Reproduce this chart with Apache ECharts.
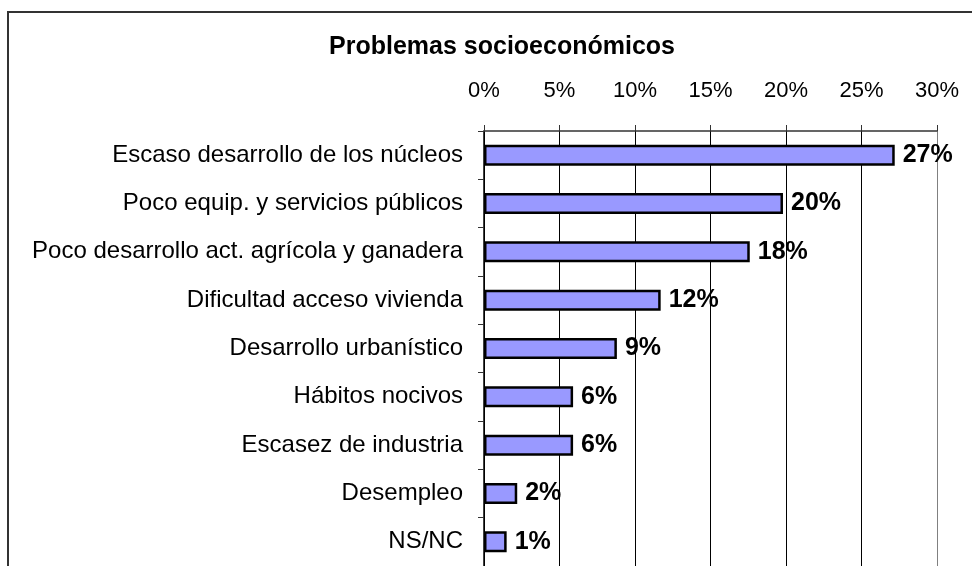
<!DOCTYPE html>
<html>
<head>
<meta charset="utf-8">
<script src="https://cdn.jsdelivr.net/npm/echarts@6/dist/echarts.min.js"></script>
<style>
  html, body { margin: 0; padding: 0; background: #fff; }
  #chart { width: 972px; height: 566px; }
</style>
</head>
<body>
<div id="chart"></div>
<script>
// datos del gráfico
var categorias = ["Escaso desarrollo de los núcleos", "Poco equip. y servicios públicos",
    "Poco desarrollo act. agrícola y ganadera", "Dificultad acceso vivienda",
    "Desarrollo urbanístico", "Hábitos nocivos", "Escasez de industria", "Desempleo", "NS/NC"];
var valores = [27.2, 19.8, 17.6, 11.7, 8.8, 5.9, 5.9, 2.2, 1.5];
var etiquetas = ["27%", "20%", "18%", "12%", "9%", "6%", "6%", "2%", "1%"];
var titulo = "Problemas socioeconómicos";

(function () {
    var fuente = "'Liberation Sans', Arial, sans-serif";
    var myChart = echarts.init(document.getElementById("chart"));
    var option = {
        animation: false,
        title: {
            text: titulo,
            left: 497,
            textAlign: "center",
            top: 30,
            textStyle: { fontFamily: fuente, fontSize: 25, fontWeight: "bold", color: "#000" }
        },
        // marco exterior
        graphic: [{
            type: "rect",
            shape: { x: 8, y: 12, width: 1000, height: 600 },
            style: { fill: "none", stroke: "#333", lineWidth: 2 }
        }],
        grid: { left: 484, right: 35, top: 131, height: 441 },
        xAxis: {
            type: "value",
            position: "top",
            min: 0,
            max: 30,
            interval: 5,
            axisLine: { show: true, lineStyle: { color: "#333", width: 1.5 } },
            axisTick: { show: true, length: 6, lineStyle: { color: "#333" } },
            axisLabel: {
                formatter: "{value}%",
                margin: 29,
                fontFamily: fuente,
                fontSize: 22,
                color: "#000"
            },
            splitLine: {
                show: true,
                lineStyle: { color: ["#000", "#000", "#000", "#000", "#000", "#000", "#808080"], width: 1 }
            }
        },
        yAxis: {
            type: "category",
            inverse: true,
            data: categorias,
            axisLine: { show: true, lineStyle: { color: "#000", width: 1.5 } },
            axisTick: { show: true, length: 6, lineStyle: { color: "#333" } },
            axisLabel: {
                margin: 21,
                fontFamily: fuente,
                fontSize: 24,
                color: "#000"
            }
        },
        series: [{
            type: "bar",
            data: valores,
            barWidth: 21,
            itemStyle: { color: "#9999ff", borderColor: "#000", borderWidth: 2.5 },
            label: {
                show: true,
                position: "right",
                distance: 8,
                fontFamily: fuente,
                fontSize: 25,
                fontWeight: "bold",
                color: "#000",
                formatter: function (p) { return etiquetas[p.dataIndex]; }
            }
        }]
    };
    myChart.setOption(option);
})();
</script>
</body>
</html>
